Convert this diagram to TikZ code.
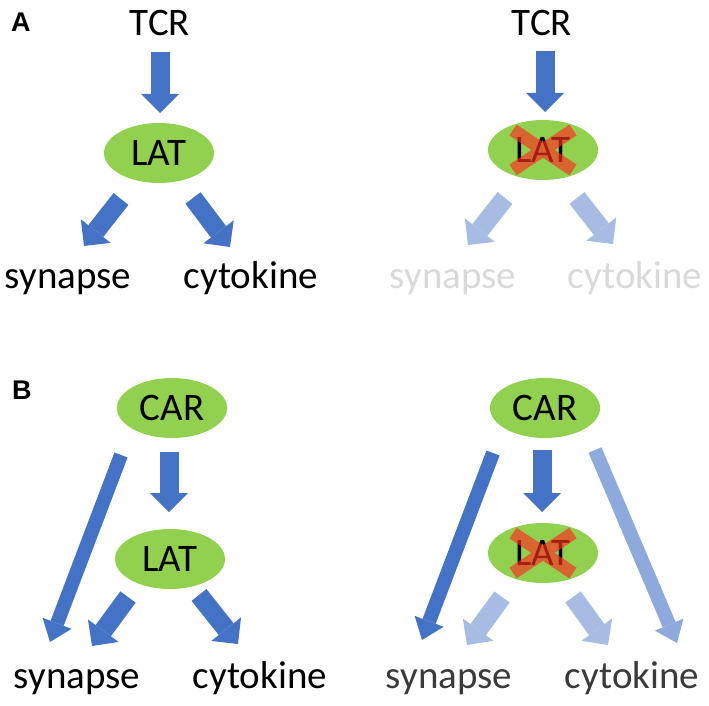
\documentclass[tikz,border=0pt]{standalone}
\usepackage{fontspec}
\setmainfont{Carlito}
\newfontfamily\panelfont{Liberation Sans}
\usetikzlibrary{arrows.meta,shapes.geometric}

\definecolor{cellgreen}{HTML}{92D050}
\definecolor{arrowblue}{HTML}{4472C4}
\definecolor{paleblue}{HTML}{A7BCE2}
\definecolor{midblue}{HTML}{8EA9DB}
\definecolor{fadegray}{HTML}{D9D9D9}
\definecolor{textgray}{HTML}{3A3A3A}
\definecolor{crossred}{RGB}{255,45,30}

\tikzset{
  cell/.style={ellipse, fill=cellgreen, minimum width=110pt, minimum height=60pt,
    inner sep=0pt, font=\fontsize{39}{47}\selectfont},
  word/.style={anchor=base, inner sep=0pt, font=\fontsize{39}{47}\selectfont},
  panel/.style={anchor=west, inner sep=0pt, font=\panelfont\bfseries\fontsize{27}{32}\selectfont},
  fat/.style={line width=19pt, draw=arrowblue,
    -{Triangle[length=19pt,width=38pt,line width=0pt]}},
  slim/.style={line width=14pt, draw=arrowblue,
    -{Triangle[length=20pt,width=31pt,line width=0pt]}},
  knock/.style={draw=crossred, line width=13pt, draw opacity=0.65},
}

\begin{document}
\begin{tikzpicture}[x=1pt,y=-1pt]
    \useasboundingbox (0,0) rectangle (709,706);

    % panel A, left: normal TCR signalling
    \node[panel] (labA) at (11,22) {A};
    \node[word] (tcrA) at (160,36) {TCR};
    \node[cell] (latA) at (159,153) {LAT};
    \node[word] (synA) at (68,288) {synapse};
    \node[word] (cytA) at (251,288) {cytokine};

    \coordinate (tcrA-out) at (160,52);
    \coordinate (latA-in) at (160,113);
    \coordinate (latA-sw) at (121,199);
    \coordinate (synA-in) at (84,246);
    \coordinate (latA-se) at (193,198);
    \coordinate (cytA-in) at (230,247);

    \draw[fat] (tcrA-out) -- (latA-in);
    \draw[fat] (latA-sw) -- (synA-in);
    \draw[fat] (latA-se) -- (cytA-in);

    % panel A, right: LAT knocked out
    \node[word] (tcrAk) at (542,36) {TCR};
    \node[cell] (latAk) at (543,150) {LAT};
    \node[word, text=fadegray] (synAk) at (453,288) {synapse};
    \node[word, text=fadegray] (cytAk) at (635,288) {cytokine};

    \coordinate (tcrAk-out) at (545,51);
    \coordinate (latAk-in) at (545,112);
    \coordinate (latAk-sw) at (505,198);
    \coordinate (synAk-in) at (468,245);
    \coordinate (latAk-se) at (577,198);
    \coordinate (cytAk-in) at (613,244);

    \draw[fat] (tcrAk-out) -- (latAk-in);
    \draw[fat, draw=paleblue] (latAk-sw) -- (synAk-in);
    \draw[fat, draw=paleblue] (latAk-se) -- (cytAk-in);
    \draw[knock] ([shift={(-30,-20)}]latAk.center) -- ([shift={(30,20)}]latAk.center)
                 ([shift={(30,-20)}]latAk.center) -- ([shift={(-30,20)}]latAk.center);

    % panel B, left: CAR signalling
    \node[panel] (labB) at (12,390) {B};
    \node[cell] (carB) at (172,408) {CAR};
    \node[cell] (latB) at (170,559) {LAT};
    \node[word] (synB) at (77,688) {synapse};
    \node[word] (cytB) at (260,688) {cytokine};

    \coordinate (carB-out) at (169,452);
    \coordinate (latB-in) at (169,512);
    \coordinate (carB-sw) at (121,455);
    \coordinate (synB-far) at (50,642);
    \coordinate (latB-sw) at (128,597);
    \coordinate (synB-in) at (92,646);
    \coordinate (latB-se) at (199,595);
    \coordinate (cytB-in) at (238,644);

    \draw[fat] (carB-out) -- (latB-in);
    \draw[slim] (carB-sw) -- (synB-far);
    \draw[fat] (latB-sw) -- (synB-in);
    \draw[fat] (latB-se) -- (cytB-in);

    % panel B, right: CAR with LAT knocked out
    \node[cell] (carBk) at (545,408) {CAR};
    \node[cell] (latBk) at (543,553) {LAT};
    \node[word, text=textgray] (synBk) at (449,688) {synapse};
    \node[word, text=textgray] (cytBk) at (632,688) {cytokine};

    \coordinate (carBk-out) at (542,450);
    \coordinate (latBk-in) at (542,512);
    \coordinate (carBk-sw) at (493,453);
    \coordinate (synBk-far) at (422,640);
    \coordinate (carBk-se) at (595,450);
    \coordinate (cytBk-far) at (677,643);
    \coordinate (latBk-sw) at (502,597);
    \coordinate (synBk-in) at (467,645);
    \coordinate (latBk-se) at (573,597);
    \coordinate (cytBk-in) at (608,645);

    \draw[fat] (carBk-out) -- (latBk-in);
    \draw[slim] (carBk-sw) -- (synBk-far);
    \draw[slim, draw=midblue] (carBk-se) -- (cytBk-far);
    \draw[fat, draw=paleblue] (latBk-sw) -- (synBk-in);
    \draw[fat, draw=paleblue] (latBk-se) -- (cytBk-in);
    \draw[knock] ([shift={(-30,-20)}]latBk.center) -- ([shift={(30,20)}]latBk.center)
                 ([shift={(30,-20)}]latBk.center) -- ([shift={(-30,20)}]latBk.center);
\end{tikzpicture}
\end{document}
